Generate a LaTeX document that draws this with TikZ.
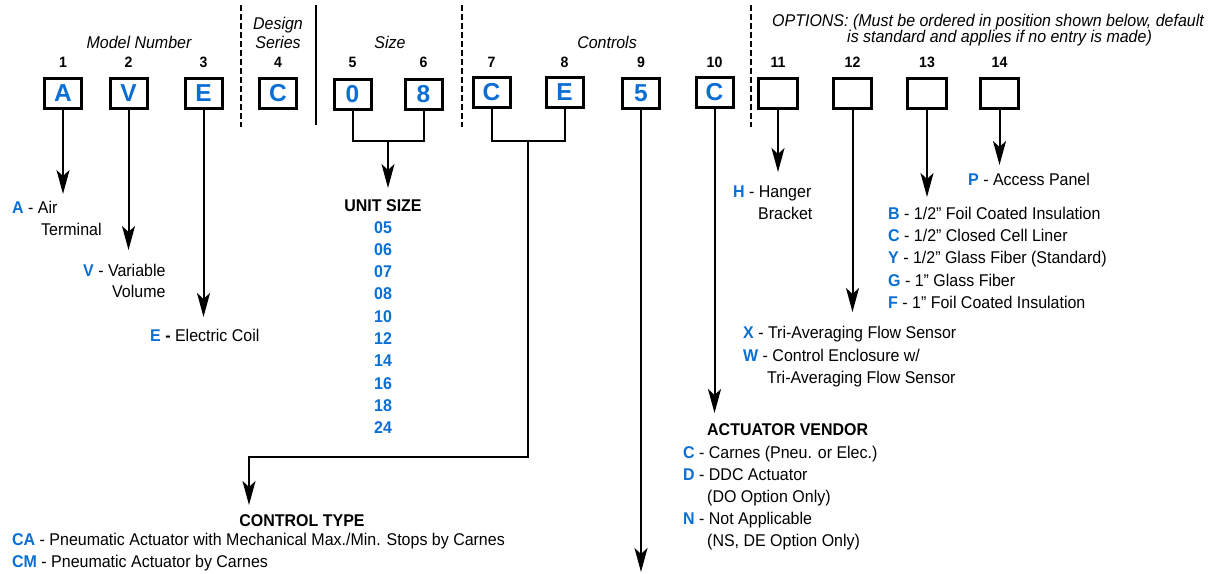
\documentclass[tikz,border=0pt]{standalone}
\usepackage{fontspec}
\setmainfont{Liberation Sans}
\newfontfamily\nf{Liberation Sans}[FakeStretch=0.94]
\usetikzlibrary{arrows.meta}
\definecolor{cblue}{RGB}{10,110,210}
\newcommand{\bl}[1]{\textcolor{cblue}{\bfseries #1}}
\begin{document}
\begin{tikzpicture}[x=1pt,y=-1pt,
  cbox/.style={draw, line width=3pt, minimum width=37pt, minimum height=30pt, inner sep=0pt,
    font=\fontsize{24.5}{24.5}\selectfont\bfseries, text=cblue},
  num/.style={font=\nf\fontsize{15}{15}\selectfont\bfseries, inner sep=0pt},
  hdr/.style={font=\nf\fontsize{17}{17}\selectfont\itshape, inner sep=0pt, anchor=base},
  txt/.style={font=\nf\fontsize{17}{20}\selectfont, anchor=base west, inner sep=0pt},
  bhd/.style={font=\nf\fontsize{17}{20}\selectfont\bfseries, anchor=base, inner sep=0pt},
  unum/.style={font=\nf\fontsize{17}{20}\selectfont\bfseries, text=cblue, anchor=base, inner sep=0pt},
  arr/.style={line width=2pt, -{Stealth[length=24pt,width=13pt,inset=6pt]}},
  conn/.style={line width=2pt, line join=miter},
  sep/.style={line width=2pt, dash pattern=on 6pt off 3pt}]
\useasboundingbox (0,0) rectangle (1209,573);

% separators
\draw[sep] (241,5) -- (241,127);
\draw[line width=2pt] (316,5) -- (316,125);
\draw[sep] (462,5) -- (462,127);
\draw[sep] (751,5) -- (751,127);

% headers
\node[hdr] (hmodel) at (139,48) {Model Number};
\node[hdr] (hdesign) at (278,29) {Design};
\node[hdr] (hseries) at (278,48) {Series};
\node[hdr] (hsize) at (390,48) {Size};
\node[hdr] (hcontrols) at (607,48) {Controls};
\node[hdr, anchor=base west] (hopt1) at (772,26) {OPTIONS: (Must be ordered in position shown below, default};
\node[hdr, anchor=base west] (hopt2) at (847,42) {is standard and applies if no entry is made)};

% boxes
\node[cbox] (b1) at (63,93.5) {A};
\node[cbox] (b2) at (128.5,93.5) {V};
\node[cbox] (b3) at (203.5,93.5) {E};
\node[cbox] (b4) at (278,93) {C};
\node[cbox] (b5) at (352.5,94.5) {0};
\node[cbox] (b6) at (423.5,94.5) {8};
\node[cbox] (b7) at (491.5,92) {C};
\node[cbox] (b8) at (564.5,92) {E};
\node[cbox] (b9) at (641,93) {5};
\node[cbox] (b10) at (714.5,92) {C};
\node[cbox, minimum width=38.5pt] (b11) at (778,93) {};
\node[cbox, minimum width=38.5pt] (b12) at (852.5,93) {};
\node[cbox, minimum width=38.5pt] (b13) at (927,93) {};
\node[cbox, minimum width=38.5pt] (b14) at (999.5,93) {};

% numbers
\foreach \i/\x in {1/63,2/128.5,3/203.5,4/278,5/352.5,6/423.5,7/491.5,8/564.5,9/641,10/714.5,11/778,12/852.5,13/927,14/999.5}
  \node[num] (n\i) at (\x,62) {\i};

% arrow end points
\coordinate (t1) at (63,194);
\coordinate (t2) at (128.5,250);
\coordinate (t3) at (203.5,317);
\coordinate (j56) at (388,141);
\coordinate (t56) at (388,188);
\coordinate (j78) at (528,141);
\coordinate (c78) at (528,457);
\coordinate (t78) at (249,505);
\coordinate (t9) at (641,572);
\coordinate (t10) at (714.5,413);
\coordinate (t11) at (778,172);
\coordinate (t12) at (852.5,312);
\coordinate (t13) at (927,197);
\coordinate (t14) at (999.5,165);

% connectors
\draw[arr] (b1.south) -- (t1);
\draw[arr] (b2.south) -- (t2);
\draw[arr] (b3.south) -- (t3);
\draw[conn] (b5.south) |- (j56) -| (b6.south);
\draw[arr] (j56) -- (t56);
\draw[conn] (b7.south) |- (j78) -| (b8.south);
\draw[arr, line join=miter] (j78) -- (c78) -| (t78);
\draw[arr] (b9.south) -- (t9);
\draw[arr] (b10.south) -- (t10);
\draw[arr] (b11.south) -- (t11);
\draw[arr] (b12.south) -- (t12);
\draw[arr] (b13.south) -- (t13);
\draw[arr] (b14.south) -- (t14);

% model texts
\node[txt] (la1) at (12,213) {\bl{A} - Air};
\node[txt] (la2) at (41,235) {Terminal};
\node[txt] (lv1) at (83,276) {\bl{V} - Variable};
\node[txt] (lv2) at (112,297) {Volume};
\node[txt] (le1) at (150,341) {\bl{E} \textbf{-} Electric Coil};

% unit size
\node[bhd] (us) at (383,211) {UNIT SIZE};
\foreach \k/\v in {0/05,1/06,2/07,3/08,4/10,5/12,6/14,7/16,8/18,9/24}
  \node[unum] (u\v) at (383,233+22.33*\k) {\v};

% control type
\node[bhd] (ct) at (302,526) {CONTROL TYPE};
\node[txt] (ca) at (12,545) {\bl{CA} - Pneumatic Actuator with Mechanical Max./Min. Stops by Carnes};
\node[txt] (cm) at (12,567) {\bl{CM} - Pneumatic Actuator by Carnes};

% actuator vendor
\node[bhd, anchor=base west] (av) at (707,435) {ACTUATOR VENDOR};
\node[txt] (avc) at (683,458) {\bl{C} - Carnes (Pneu. or Elec.)};
\node[txt] (avd) at (683,480) {\bl{D} - DDC Actuator};
\node[txt] (avd2) at (707,502) {(DO Option Only)};
\node[txt] (avn) at (683,524) {\bl{N} - Not Applicable};
\node[txt] (avn2) at (707,546) {(NS, DE Option Only)};

% options
\node[txt] (oh1) at (733,197) {\bl{H} - Hanger};
\node[txt] (oh2) at (758,219) {Bracket};
\node[txt] (ox) at (743,338) {\bl{X} - Tri-Averaging Flow Sensor};
\node[txt] (ow) at (743,361) {\bl{W} - Control Enclosure w/};
\node[txt] (ow2) at (767,383) {Tri-Averaging Flow Sensor};
\node[txt] (op) at (968,185) {\bl{P} - Access Panel};
\node[txt] (ob) at (888,219) {\bl{B} - 1/2” Foil Coated Insulation};
\node[txt] (oc) at (888,241) {\bl{C} - 1/2” Closed Cell Liner};
\node[txt] (oy) at (888,263.5) {\bl{Y} - 1/2” Glass Fiber (Standard)};
\node[txt] (og) at (888,286) {\bl{G} - 1” Glass Fiber};
\node[txt] (of) at (888,308) {\bl{F} - 1” Foil Coated Insulation};
\end{tikzpicture}
\end{document}
